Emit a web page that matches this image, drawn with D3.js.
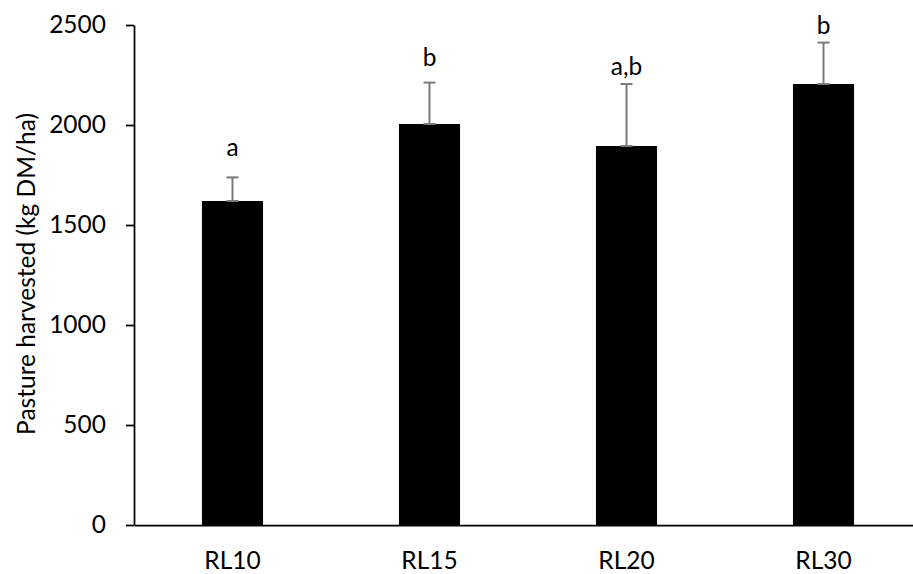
<!DOCTYPE html>
<html>
<head>
<meta charset="utf-8">
<script src="https://cdn.jsdelivr.net/npm/d3@7"></script>
<style>
  body { margin: 0; background: #fff; }
  text { font-family: Lato, "Open Sans", sans-serif; fill: #000; }
</style>
</head>
<body>
<script>
// chart data
var groups = ["RL10", "RL15", "RL20", "RL30"];
var harvested = [1620, 2005, 1895, 2205];
var errUpper = [1738, 2212, 2205, 2412];
var letters = ["a", "b", "a,b", "b"];
var letterAt = [1845, 2295, 2250, 2455];
var yTicks = [0, 500, 1000, 1500, 2000, 2500];

var svgWidth = 913;
var svgHeight = 574;
var fontSize = 24.5;

var margin = { top: 25, right: -9, bottom: 49, left: 134 };
var width = svgWidth - margin.left - margin.right;
var height = svgHeight - margin.top - margin.bottom;

var svg = d3.select("body")
  .append("svg")
  .attr("width", svgWidth)
  .attr("height", svgHeight);

var chartGroup = svg.append("g")
  .attr("transform", `translate(${margin.left}, ${margin.top})`);

var xBandScale = d3.scaleBand()
  .domain(groups)
  .range([0, width])
  .paddingInner(0.69)
  .paddingOuter(0.345);

var yLinearScale = d3.scaleLinear()
  .domain([0, 2500])
  .range([height, 0]);

// y axis
var leftAxis = d3.axisLeft(yLinearScale)
  .tickValues(yTicks)
  .tickFormat(d3.format("d"))
  .tickSize(8)
  .tickSizeOuter(0)
  .tickPadding(20);

var yAxis = chartGroup.append("g").call(leftAxis);
yAxis.attr("font-size", fontSize).attr("font-family", "Lato, sans-serif");
yAxis.select(".domain").attr("stroke", "#000").attr("stroke-width", 1.75);
yAxis.selectAll(".tick line").attr("stroke", "#000").attr("stroke-width", 1.75);
yAxis.selectAll(".tick text").attr("fill", "#000");

// bars
chartGroup.selectAll(".bar")
  .data(groups)
  .enter()
  .append("rect")
  .attr("class", "bar")
  .attr("x", d => xBandScale(d))
  .attr("width", xBandScale.bandwidth())
  .attr("y", (d, i) => yLinearScale(harvested[i]))
  .attr("height", (d, i) => height - yLinearScale(harvested[i]))
  .attr("fill", "#000");

// error bars (upper only)
var errGroup = chartGroup.selectAll(".err")
  .data(groups)
  .enter()
  .append("g")
  .attr("class", "err")
  .attr("stroke", "#7a7a7a")
  .attr("stroke-width", 2);

errGroup.append("line")
  .attr("x1", d => xBandScale(d) + xBandScale.bandwidth() / 2)
  .attr("x2", d => xBandScale(d) + xBandScale.bandwidth() / 2)
  .attr("y1", (d, i) => yLinearScale(harvested[i]))
  .attr("y2", (d, i) => yLinearScale(errUpper[i]));

errGroup.append("line")
  .attr("x1", d => xBandScale(d) + xBandScale.bandwidth() / 2 - 6)
  .attr("x2", d => xBandScale(d) + xBandScale.bandwidth() / 2 + 6)
  .attr("y1", (d, i) => yLinearScale(errUpper[i]))
  .attr("y2", (d, i) => yLinearScale(errUpper[i]));

errGroup.append("line")
  .attr("x1", d => xBandScale(d) + xBandScale.bandwidth() / 2 - 6)
  .attr("x2", d => xBandScale(d) + xBandScale.bandwidth() / 2 + 6)
  .attr("y1", (d, i) => yLinearScale(harvested[i]))
  .attr("y2", (d, i) => yLinearScale(harvested[i]));

// significance letters
chartGroup.selectAll(".letter")
  .data(groups)
  .enter()
  .append("text")
  .attr("class", "letter")
  .attr("x", d => xBandScale(d) + xBandScale.bandwidth() / 2)
  .attr("y", (d, i) => yLinearScale(letterAt[i]))
  .attr("text-anchor", "middle")
  .attr("font-size", fontSize)
  .text((d, i) => letters[i]);

// x axis
var bottomAxis = d3.axisBottom(xBandScale).tickSize(0).tickPadding(27);
var xAxis = chartGroup.append("g")
  .attr("transform", `translate(0, ${height})`)
  .call(bottomAxis);
xAxis.attr("font-size", fontSize).attr("font-family", "Lato, sans-serif");
xAxis.select(".domain").attr("stroke", "#000").attr("stroke-width", 1.75);
xAxis.selectAll(".tick text").attr("fill", "#000");

// y label
chartGroup.append("text")
  .attr("transform", "rotate(-90)")
  .attr("x", 0 - (height / 2) + 1)
  .attr("y", 0 - margin.left + 35)
  .attr("text-anchor", "middle")
  .attr("font-size", fontSize)
  .text("Pasture harvested (kg DM/ha)");
</script>
</body>
</html>
